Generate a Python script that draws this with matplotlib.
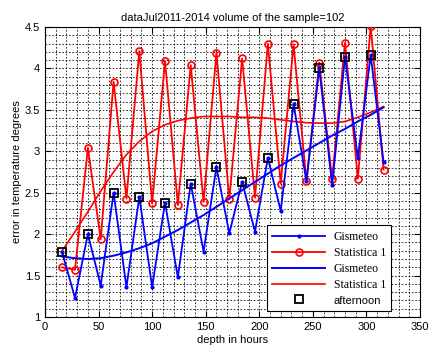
import numpy as np
import matplotlib
matplotlib.use("Agg")
import matplotlib.pyplot as plt
from matplotlib.ticker import MultipleLocator, FormatStrFormatter

plt.rcParams["font.family"] = ["Liberation Sans", "DejaVu Sans"]

# forecast depth, hours (every 12 h)
hours = [16, 28, 40, 52, 64, 76, 88, 100, 112, 124, 136, 148, 160,
         172, 184, 196, 208, 220, 232, 244, 256, 268, 280, 292, 304, 316]

gismeteo = [1.78, 1.23, 2.00, 1.38, 2.50, 1.36, 2.45, 1.36, 2.38, 1.48,
            2.61, 1.79, 2.81, 2.01, 2.63, 2.03, 2.92, 2.28, 3.57, 2.64,
            4.00, 2.59, 4.14, 2.92, 4.16, 2.87]

statistica = [1.60, 1.57, 3.04, 1.94, 3.84, 2.43, 4.21, 2.37, 4.09, 2.35,
              4.04, 2.39, 4.19, 2.42, 4.12, 2.44, 4.30, 2.61, 4.29, 2.64,
              4.07, 2.66, 4.31, 2.67, 4.51, 2.78]

# smoothed trends
gismeteo_trend = [1.73, 1.71, 1.70, 1.71, 1.74, 1.78, 1.83, 1.89, 1.97, 2.05,
                  2.14, 2.23, 2.33, 2.43, 2.53, 2.63, 2.73, 2.83, 2.92, 3.01,
                  3.10, 3.19, 3.27, 3.36, 3.44, 3.53]

statistica_trend = [1.80, 2.03, 2.27, 2.52, 2.75, 2.96, 3.12, 3.24, 3.32, 3.37,
                    3.40, 3.42, 3.42, 3.42, 3.41, 3.41, 3.40, 3.38, 3.36, 3.345,
                    3.34, 3.34, 3.36, 3.41, 3.47, 3.54]

# afternoon points (every other one, starting at 16 h)
afternoon_hours = hours[::2]
afternoon_vals = gismeteo[::2]

fig = plt.figure(figsize=(4.3, 3.48), dpi=100)
ax = fig.add_axes([0.1047, 0.0891, 0.872, 0.8333])

ax.plot(hours, statistica, color="red", lw=1.3, marker="o", markersize=5,
        markerfacecolor="none", markeredgewidth=1.2, label="Statistica 1", zorder=3)
ax.plot(hours, gismeteo, color="blue", lw=1.3, marker=".", markersize=4,
        label="Gismeteo", zorder=4)
ax.plot(hours, gismeteo_trend, color="blue", lw=1.4, label="Gismeteo", zorder=4)
ax.plot(hours, statistica_trend, color="red", lw=1.2, label="Statistica 1", zorder=3)
ax.plot(afternoon_hours, afternoon_vals, linestyle="none", marker="s", markersize=6,
        markerfacecolor="none", markeredgecolor="black", markeredgewidth=1.3,
        label="afternoon", zorder=5)

ax.set_xlim(0, 350)
ax.set_ylim(1, 4.5)
ax.xaxis.set_major_locator(MultipleLocator(50))
ax.xaxis.set_minor_locator(MultipleLocator(10))
ax.yaxis.set_major_locator(MultipleLocator(0.5))
ax.yaxis.set_minor_locator(MultipleLocator(0.1))
ax.yaxis.set_major_formatter(FormatStrFormatter("%g"))

ax.grid(True, which="both", color="black", linestyle=(0, (2.2, 2.2)), lw=0.55)
ax.set_axisbelow(True)
ax.tick_params(which="both", direction="in", top=True, right=True, labelsize=8)
ax.tick_params(which="major", length=4)
ax.tick_params(which="minor", length=0)
for sp in ax.spines.values():
    sp.set_linewidth(0.8)

ax.set_title("dataJul2011-2014 volume of the sample=102", fontsize=8, pad=4)
ax.set_xlabel("depth in hours", fontsize=8, labelpad=2)
ax.set_ylabel("error in temperature degrees", fontsize=8, labelpad=2)

h, l = ax.get_legend_handles_labels()
order = [1, 0, 2, 3, 4]
leg = ax.legend([h[i] for i in order], [l[i] for i in order],
                loc="lower right", bbox_to_anchor=(0.923, 0.021),
                borderaxespad=0,
                prop={"family": "Liberation Serif", "size": 8.5},
                frameon=True, fancybox=False, edgecolor="black",
                framealpha=1, handlelength=4.5, labelspacing=0.35,
                borderpad=0.45, handletextpad=0.7)
leg.get_frame().set_linewidth(0.8)
leg.get_texts()[-1].set_family("Liberation Sans")
leg.get_texts()[-1].set_fontsize(8)

fig.savefig("out.png", dpi=100)
